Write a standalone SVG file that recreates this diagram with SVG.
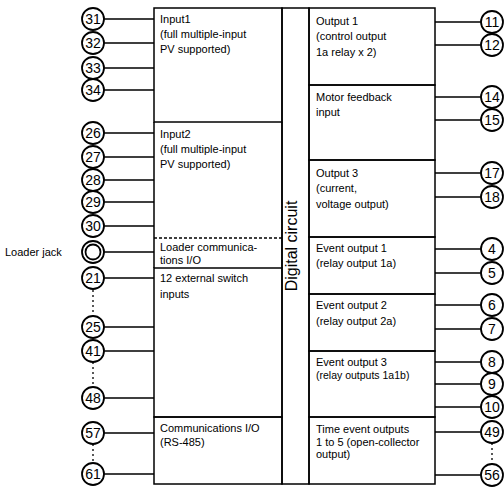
<svg xmlns="http://www.w3.org/2000/svg" width="504" height="487" viewBox="0 0 504 487">
<style>
.box{fill:none;stroke:#000;stroke-width:1.5}
.ln{stroke:#000;stroke-width:1.5;fill:none}
.dot{stroke:#000;stroke-width:1.3;stroke-dasharray:2 3;fill:none}
.c{fill:#fff;stroke:#000;stroke-width:1.8}
.n{font-family:"Liberation Sans",Arial,sans-serif;font-size:14px;text-anchor:middle;fill:#000}
.t{font-family:"Liberation Sans",Arial,sans-serif;font-size:11px;fill:#000}
.big{font-family:"Liberation Sans",Arial,sans-serif;font-size:16px;text-anchor:middle;fill:#000}
</style>
<rect width="504" height="487" fill="#fff"/>

<g id="connectors">
<path class="ln" d="M104 19H154M104 43H154M104 68H154M104 90H154M104 133H154M104 157H154M104 180H154M104 202H154M104 226H154M104 252H154M104 278H154M104 327H154M104 351H154M104 398H154M104 433H154M104 474H154"/>
<path class="dot" d="M93 290V316M93 362V387M93 444V463"/>
<path class="ln" d="M435 22H481M435 45H481M435 97H481M435 120H481M435 173H481M435 197H481M435 249H481M435 273H481M435 305H481M435 329H481M435 362H481M435 384H481M435 407H481M435 432H481M435 475H481"/>
<path class="dot" d="M492 443V464"/>
</g>

<g id="digital">
<rect class="box" x="282" y="8" width="27" height="476"/>
<text class="big" transform="translate(297,246) rotate(-90)">Digital circuit</text>
</g>

<g id="input1"><rect class="box" x="154" y="8" width="128" height="114"/>
<text class="t" x="160" y="23">Input1</text><text class="t" x="160" y="38">(full multiple-input</text><text class="t" x="160" y="53">PV supported)</text></g>
<g id="input2"><path class="ln" d="M154 122V238M282 122V238"/>
<text class="t" x="160" y="138">Input2</text><text class="t" x="160" y="153">(full multiple-input</text><text class="t" x="160" y="168">PV supported)</text></g>
<g id="loader"><path class="ln" d="M154 238V268M282 238V268"/><path class="ln" d="M154 238H282" stroke-dasharray="3 2"/>
<text class="t" x="160" y="251">Loader communica-</text><text class="t" x="160" y="264">tions I/O</text></g>
<g id="switch"><rect class="box" x="154" y="268" width="128" height="149"/>
<text class="t" x="160" y="282">12 external switch</text><text class="t" x="160" y="298">inputs</text></g>
<g id="comm"><rect class="box" x="154" y="417" width="128" height="67"/>
<text class="t" x="160" y="432">Communications I/O</text><text class="t" x="160" y="446">(RS-485)</text></g>

<g id="out1"><rect class="box" x="309" y="8" width="126" height="77"/>
<text class="t" x="316" y="25">Output 1</text><text class="t" x="316" y="40">(control output</text><text class="t" x="316" y="56">1a relay x 2)</text></g>
<g id="motor"><rect class="box" x="309" y="85" width="126" height="75"/>
<text class="t" x="316" y="101">Motor feedback</text><text class="t" x="316" y="116">input</text></g>
<g id="out3"><rect class="box" x="309" y="160" width="126" height="77"/>
<text class="t" x="316" y="177">Output 3</text><text class="t" x="316" y="192">(current,</text><text class="t" x="316" y="208">voltage output)</text></g>
<g id="ev1"><rect class="box" x="309" y="237" width="126" height="57"/>
<text class="t" x="316" y="252">Event output 1</text><text class="t" x="316" y="267">(relay output 1a)</text></g>
<g id="ev2"><rect class="box" x="309" y="294" width="126" height="57"/>
<text class="t" x="316" y="309">Event output 2</text><text class="t" x="316" y="325">(relay output 2a)</text></g>
<g id="ev3"><rect class="box" x="309" y="351" width="126" height="66"/>
<text class="t" x="316" y="366">Event output 3</text><text class="t" x="316" y="379" style="font-size:10.5px">(relay outputs 1a1b)</text></g>
<g id="time"><rect class="box" x="309" y="417" width="126" height="67"/>
<text class="t" x="316" y="433">Time event outputs</text><text class="t" x="316" y="446">1 to 5 (open-collector</text><text class="t" x="316" y="458">output)</text></g>

<g id="t31"><circle class="c" cx="93" cy="19" r="11"/><text class="n" x="93" y="24">31</text></g>
<g id="t32"><circle class="c" cx="93" cy="43" r="11"/><text class="n" x="93" y="48">32</text></g>
<g id="t33"><circle class="c" cx="93" cy="68" r="11"/><text class="n" x="93" y="73">33</text></g>
<g id="t34"><circle class="c" cx="93" cy="90" r="11"/><text class="n" x="93" y="95">34</text></g>
<g id="t26"><circle class="c" cx="93" cy="133" r="11"/><text class="n" x="93" y="138">26</text></g>
<g id="t27"><circle class="c" cx="93" cy="157" r="11"/><text class="n" x="93" y="162">27</text></g>
<g id="t28"><circle class="c" cx="93" cy="180" r="11"/><text class="n" x="93" y="185">28</text></g>
<g id="t29"><circle class="c" cx="93" cy="202" r="11"/><text class="n" x="93" y="207">29</text></g>
<g id="t30"><circle class="c" cx="93" cy="226" r="11"/><text class="n" x="93" y="231">30</text></g>
<g id="jack"><circle class="c" cx="93" cy="252" r="11"/><circle class="c" cx="93" cy="252" r="7.5"/><text class="t" x="5" y="256">Loader jack</text></g>
<g id="t21"><circle class="c" cx="93" cy="278" r="11"/><text class="n" x="93" y="283">21</text></g>
<g id="t25"><circle class="c" cx="93" cy="327" r="11"/><text class="n" x="93" y="332">25</text></g>
<g id="t41"><circle class="c" cx="93" cy="351" r="11"/><text class="n" x="93" y="356">41</text></g>
<g id="t48"><circle class="c" cx="93" cy="398" r="11"/><text class="n" x="93" y="403">48</text></g>
<g id="t57"><circle class="c" cx="93" cy="433" r="11"/><text class="n" x="93" y="438">57</text></g>
<g id="t61"><circle class="c" cx="93" cy="474" r="11"/><text class="n" x="93" y="479">61</text></g>

<g id="t11"><circle class="c" cx="492" cy="22" r="11"/><text class="n" x="492" y="27">11</text></g>
<g id="t12"><circle class="c" cx="492" cy="45" r="11"/><text class="n" x="492" y="50">12</text></g>
<g id="t14"><circle class="c" cx="492" cy="97" r="11"/><text class="n" x="492" y="102">14</text></g>
<g id="t15"><circle class="c" cx="492" cy="120" r="11"/><text class="n" x="492" y="125">15</text></g>
<g id="t17"><circle class="c" cx="492" cy="173" r="11"/><text class="n" x="492" y="178">17</text></g>
<g id="t18"><circle class="c" cx="492" cy="197" r="11"/><text class="n" x="492" y="202">18</text></g>
<g id="t4"><circle class="c" cx="492" cy="249" r="11"/><text class="n" x="492" y="254">4</text></g>
<g id="t5"><circle class="c" cx="492" cy="273" r="11"/><text class="n" x="492" y="278">5</text></g>
<g id="t6"><circle class="c" cx="492" cy="305" r="11"/><text class="n" x="492" y="310">6</text></g>
<g id="t7"><circle class="c" cx="492" cy="329" r="11"/><text class="n" x="492" y="334">7</text></g>
<g id="t8"><circle class="c" cx="492" cy="362" r="11"/><text class="n" x="492" y="367">8</text></g>
<g id="t9"><circle class="c" cx="492" cy="384" r="11"/><text class="n" x="492" y="389">9</text></g>
<g id="t10"><circle class="c" cx="492" cy="407" r="11"/><text class="n" x="492" y="412">10</text></g>
<g id="t49"><circle class="c" cx="492" cy="432" r="11"/><text class="n" x="492" y="437">49</text></g>
<g id="t56"><circle class="c" cx="492" cy="475" r="11"/><text class="n" x="492" y="480">56</text></g>
</svg>
